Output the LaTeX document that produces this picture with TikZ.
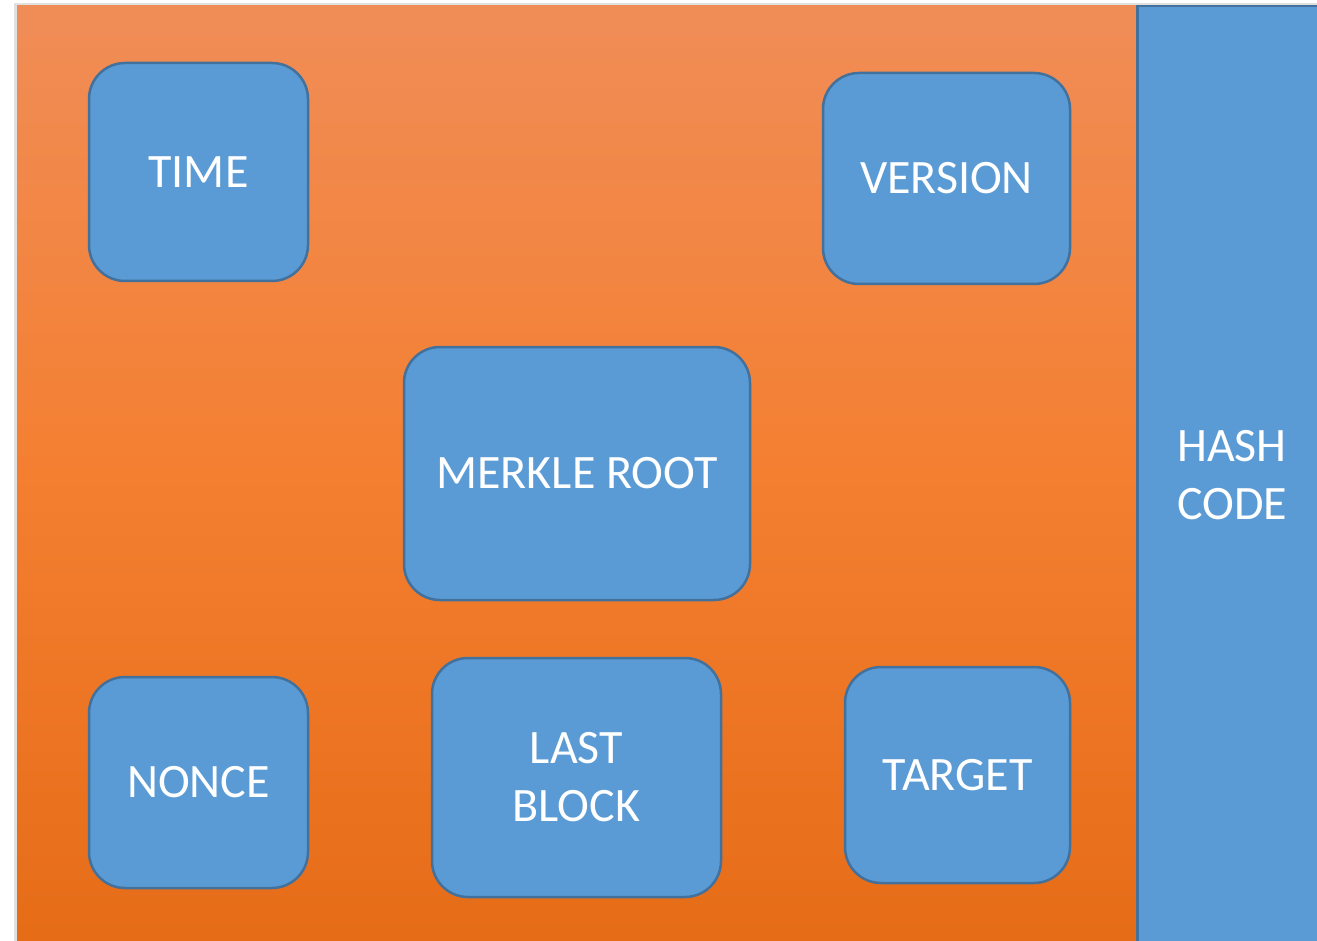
\documentclass[tikz,border=0pt]{standalone}
\usepackage{fontspec}
\setmainfont{Carlito}
\definecolor{boxblue}{HTML}{5B9BD5}
\definecolor{boxedge}{HTML}{41719C}
\definecolor{orTop}{HTML}{F08D57}
\definecolor{orMid}{HTML}{F47F31}
\definecolor{orBot}{HTML}{E66C17}
\tikzset{
  blk/.style={draw=boxedge, line width=2.5pt, fill=boxblue, rounded corners=36pt,
    text=white, align=center, inner sep=0pt,
    font=\fontsize{48}{58}\selectfont},
}
\begin{document}
\begin{tikzpicture}[x=1pt,y=-1pt]
\useasboundingbox (0,0) rectangle (1317,941);
\fill[white] (0,0) rectangle (1317,941);
% shadow
\fill[black!12] (14,3) rectangle (1317,941);
\node[shading=axis, top color=orTop, bottom color=orBot, middle color=orMid,
  minimum width=1119pt, minimum height=936pt, inner sep=0pt, anchor=north west] (panel) at (17,5) {};
\node[draw=boxedge, line width=2.5pt, fill=boxblue, minimum width=185pt, minimum height=940pt,
  inner sep=0pt, anchor=north west, text=white, align=center,
  font=\fontsize{48}{58}\selectfont] (hash) at (1136,5) {};
\node[text=white, align=center, font=\fontsize{48}{58}\selectfont, inner sep=0pt] (hashtxt) at (1232,475) {HASH\\CODE};
\node[blk, minimum width=219pt, minimum height=218pt] (time) at (198.5,172) {TIME};
\node[blk, minimum width=247pt, minimum height=211pt] (version) at (946.5,178.5) {VERSION};
\node[blk, minimum width=346pt, minimum height=253pt] (merkle) at (577,473.5) {MERKLE ROOT};
\node[blk, minimum width=219pt, minimum height=211pt] (nonce) at (198.5,782.5) {NONCE};
\node[blk, minimum width=289pt, minimum height=239pt] (last) at (576.5,777.5) {LAST\\BLOCK};
\node[blk, minimum width=225pt, minimum height=216pt] (target) at (957.5,775) {TARGET};
\end{tikzpicture}
\end{document}
